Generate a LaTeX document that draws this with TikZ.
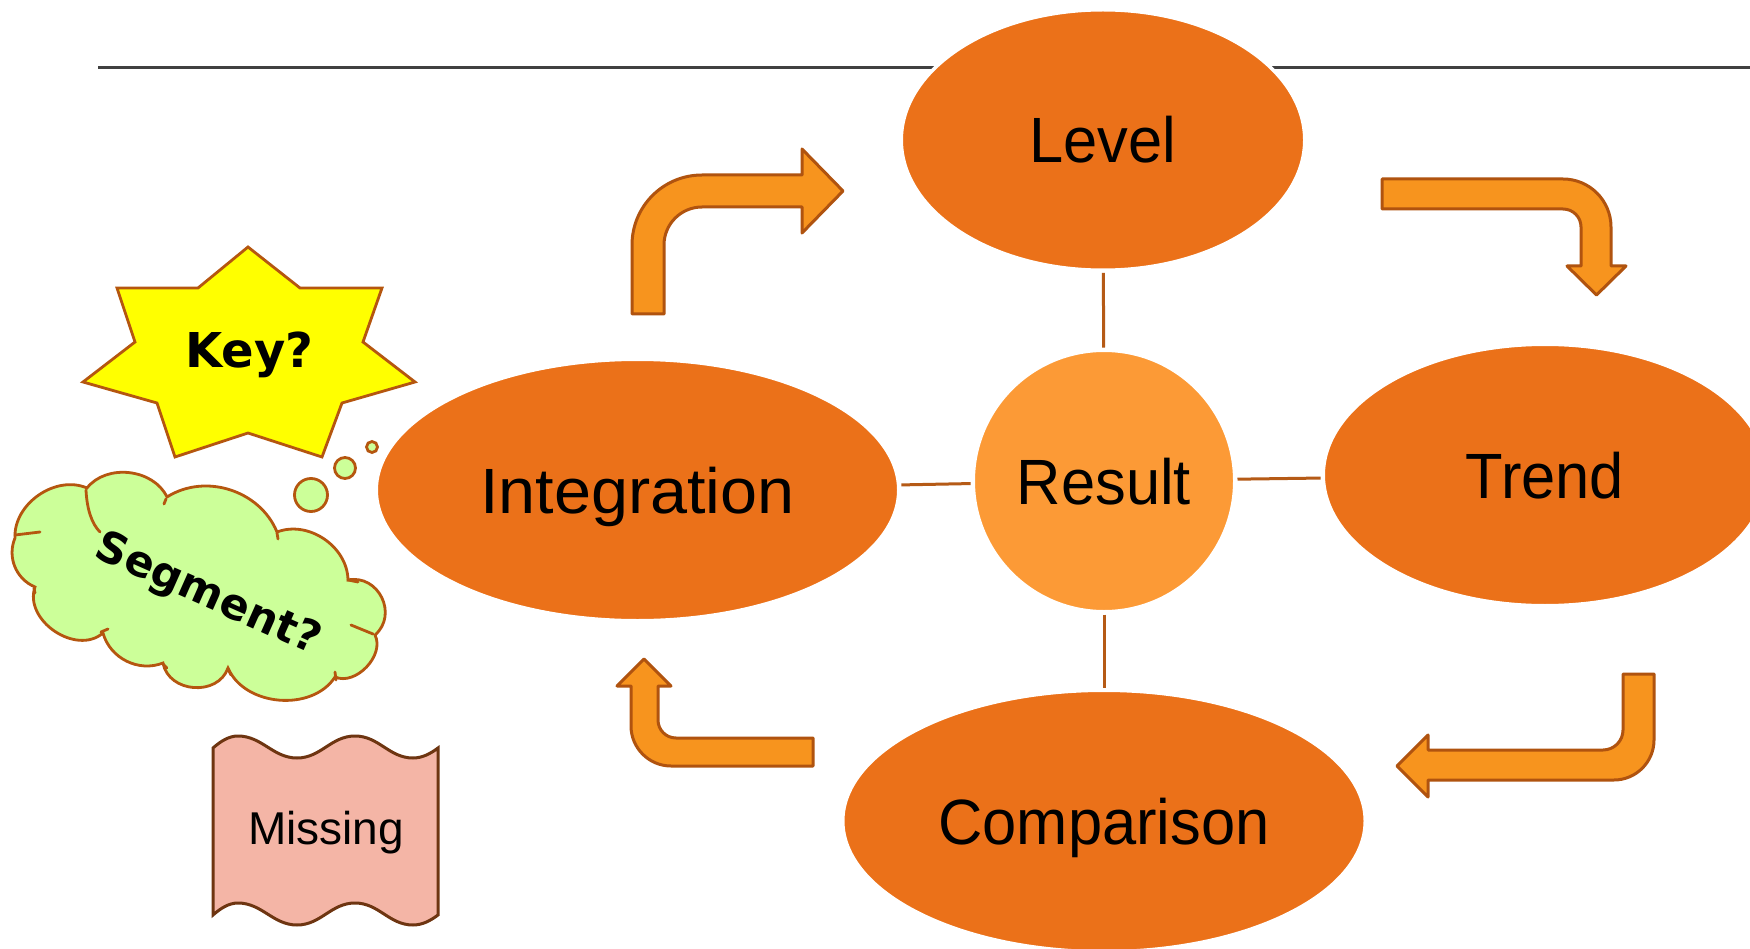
\documentclass[tikz,border=0pt]{standalone}
\usepackage{fontspec}
\setmainfont{Liberation Sans}
\newfontfamily\calloutfont{DejaVu Sans}
\usetikzlibrary{shapes.geometric}

\definecolor{ellfill}{HTML}{EB7119}
\definecolor{resfill}{HTML}{FC9A36}
\definecolor{arrfill}{HTML}{F7941E}
\definecolor{arrline}{HTML}{B0530F}
\definecolor{linkcol}{HTML}{B55A16}
\definecolor{rulecol}{HTML}{404040}
\definecolor{starfill}{HTML}{FFFF00}
\definecolor{calloutline}{HTML}{B5560F}
\definecolor{cloudfill}{HTML}{CCFF99}
\definecolor{tapefill}{HTML}{F4B5A6}
\definecolor{tapeline}{HTML}{6E3511}

\tikzset{
  stage/.style={ellipse, fill=ellfill, draw=white, line width=3.5pt, inner sep=0pt,
    font=\fontsize{64}{64}\selectfont, text height=46pt, text depth=0pt},
  hub/.style={circle, fill=resfill, draw=white, line width=3.5pt, inner sep=0pt,
    font=\fontsize{64}{64}\selectfont, text height=46pt, text depth=0pt},
  link/.style={draw=linkcol, line width=3pt},
  rule/.style={draw=rulecol, line width=3pt},
  bentarrow/.style={fill=arrfill, draw=arrline, line width=3pt, line join=round},
  startone/.style={fill=starfill, draw=calloutline, line width=2.8pt, line join=miter},
  cloudone/.style={fill=cloudfill, draw=calloutline, line width=2.8pt},
  cloudmark/.style={draw=calloutline, line width=2.8pt, line cap=round},
  tape/.style={fill=tapefill, draw=tapeline, line width=3pt},
  callout/.style={font=\calloutfont\bfseries\fontsize{48}{48}\selectfont, text height=35pt, text depth=0pt, inner sep=0pt},
}

\begin{document}
\begin{tikzpicture}[x=1pt, y=-1pt]
\useasboundingbox (0,0) rectangle (1750,949);
\fill[white] (0,0) rectangle (1750,949);

% title rule, partly hidden by the top ellipse
\draw[rule] (98,68) -- (1750,68);

% the five stages
\node[stage, minimum width=403.5pt, minimum height=260.5pt] (level) at (1103,140) {\scalebox{0.96}[1]{Level}};
\node[stage, minimum width=522.5pt, minimum height=261.5pt] (integration) at (637.5,490) {\scalebox{1.04}[1]{Integration}};
\node[hub, minimum size=261.5pt] (result) at (1104,481) {\scalebox{0.96}[1]{Result}};
\node[stage, minimum width=443.5pt, minimum height=261.5pt] (trend) at (1545,475) {\scalebox{0.96}[1]{Trend}};
\node[stage, minimum width=522.5pt, minimum height=261.5pt] (comparison) at (1104,821) {\scalebox{0.96}[1]{Comparison}};

% spokes from the hub
\draw[link, shorten <=1pt, shorten >=1pt] (level) -- (result);
\draw[link, shorten <=1pt, shorten >=1pt] (result) -- (comparison);
\draw[link, shorten <=1pt, shorten >=1pt] (integration) -- (result);
\draw[link, shorten <=1pt, shorten >=1pt] (result) -- (trend);

% bent arrows of the cycle
\draw[bentarrow] (632,314) -- (632,245) .. controls (632,206.3) and (663.3,175) .. (702,175)
  -- (802,175) -- (802,149) -- (843,191) -- (802,233) -- (802,207) -- (702,207)
  .. controls (681,207) and (664,224) .. (664,245) -- (664,314) -- cycle;

\draw[bentarrow] (1382,179) -- (1563,179) .. controls (1589.5,179) and (1611,200.5) .. (1611,227)
  -- (1611,266) -- (1626,266) -- (1596.5,295) -- (1567,266) -- (1581,266) -- (1581,227)
  .. controls (1581,217) and (1573,209) .. (1563,209) -- (1382,209) -- cycle;

\draw[bentarrow] (1623,674) -- (1654,674) -- (1654,740) .. controls (1654,762) and (1636,780) .. (1614,780)
  -- (1428,780) -- (1428,797) -- (1397,766) -- (1428,735) -- (1428,750) -- (1603,750)
  .. controls (1614,750) and (1623,741) .. (1623,730) -- cycle;

\draw[bentarrow] (813,738) -- (676,738) .. controls (666,738) and (658,730) .. (658,720)
  -- (658,686) -- (671,686) -- (644,659) -- (617,686) -- (631,686) -- (631,726)
  .. controls (631,748) and (649,766) .. (671,766) -- (813,766) -- cycle;

% seven-pointed burst
\draw[startone] (248,247) -- (300,288) -- (382,288) -- (363,342) -- (415,382) -- (342,403)
  -- (322,457) -- (248,433) -- (175,457) -- (157,403) -- (83,382) -- (135,342)
  -- (117,288) -- (198,288) -- cycle;
\node[callout] (key) at (249.5,350) {Key?};

% thought cloud with its trail of bubbles
\draw[cloudone] (15,538) to[bend left=58] (87,488) to[bend left=58] (167,497)
  to[bend left=50] (277,532) to[bend left=55] (348,580)
  to[bend left=75, looseness=1.3] (375,635) to[bend left=70] (335,677)
  to[bend left=62] (228,668) to[bend left=75, looseness=1.2] (163,663)
  to[bend left=48] (103,633) to[bend left=75, looseness=1.1] (35,587)
  to[bend left=45] cycle;
\draw[cloudmark] (15,535) -- (40,532);
\draw[cloudmark] (86,490) .. controls (87,510) and (92,524) .. (100,532);
\draw[cloudmark] (166,499) -- (164,504);
\draw[cloudmark] (277,533) -- (278,539);
\draw[cloudmark] (348,580) -- (358,582);
\draw[cloudmark] (351,625) -- (373,634);
\draw[cloudmark] (335,672) -- (336,680);
\draw[cloudmark] (228,669) -- (231,675);
\draw[cloudmark] (163,664) -- (167,668);
\draw[cloudmark] (101,632) -- (108,629);
\draw[cloudmark] (34,588) -- (35,593);
\node[callout, font=\calloutfont\bfseries\fontsize{43}{43}\selectfont, rotate=-24] (segment) at (210,590) {Segment?};
\draw[cloudone] (311,495) circle[radius=16.5];
\draw[cloudone] (345,468) circle[radius=10.5];
\draw[cloudone] (372,447) circle[radius=5.5];

% torn-page note
\draw[tape] (213,748) .. controls (221,741) and (229,736) .. (238,736)
  .. controls (262,736) and (273,758) .. (297,758)
  .. controls (321,758) and (331,736) .. (355,736)
  .. controls (379,736) and (389,758) .. (413,758)
  .. controls (422,758) and (430,754) .. (438,748)
  -- (438,915)
  .. controls (430,921) and (422,925) .. (413,925)
  .. controls (389,925) and (379,903) .. (355,903)
  .. controls (331,903) and (321,925) .. (297,925)
  .. controls (273,925) and (262,903) .. (238,903)
  .. controls (229,903) and (221,908) .. (213,915)
  -- cycle;
\node[font=\fontsize{46}{46}\selectfont, text height=33pt, text depth=0pt, inner sep=0pt] (missing) at (326,828) {Missing};
\end{tikzpicture}
\end{document}
